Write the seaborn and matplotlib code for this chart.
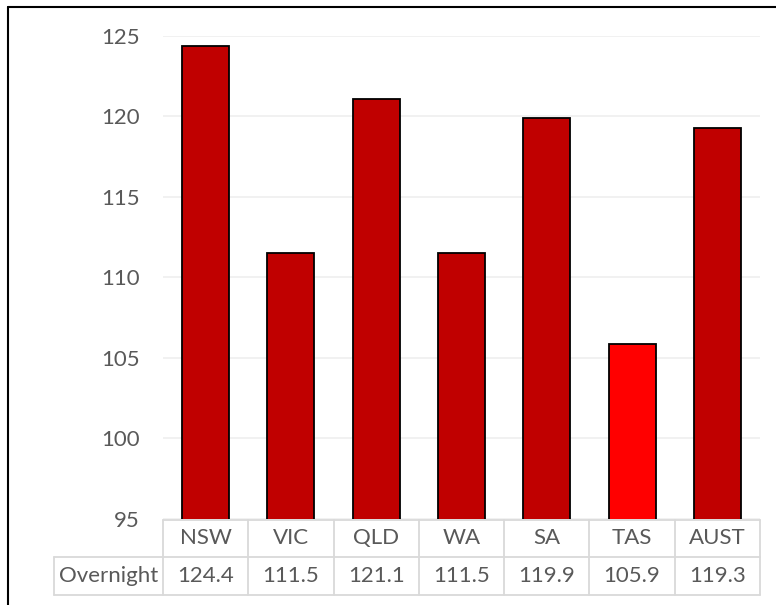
import matplotlib
matplotlib.use("Agg")
import matplotlib.pyplot as plt
import matplotlib.transforms as mtransforms
from matplotlib.lines import Line2D
import seaborn as sns

states = ["NSW", "VIC", "QLD", "WA", "SA", "TAS", "AUST"]
overnight = [124.4, 111.5, 121.1, 111.5, 119.9, 105.9, 119.3]
bar_colors = ["#C00000", "#C00000", "#C00000", "#C00000", "#C00000", "#FF0000", "#C00000"]
series_name = "Overnight"
y_ticks = [95, 100, 105, 110, 115, 120, 125]

sns.set_theme(style="white")
plt.rcParams["font.family"] = ["Lato", "DejaVu Sans"]
text_color = "#595959"
grid_color = "#D9D9D9"
fs = 16

W, H = 776, 605
fig = plt.figure(figsize=(W / 100, H / 100), dpi=100)
ax = fig.add_axes([163 / W, 1 - 519 / H, (760 - 163) / W, (519 - 36) / H])

sns.barplot(x=states, y=overnight, hue=states, palette=bar_colors, width=0.55,
            saturation=1, edgecolor="black", linewidth=1.3, legend=False, ax=ax, zorder=3)

ax.set_ylim(95, 125)
ax.set_xlim(-0.5, len(states) - 0.5)
ax.set_yticks(y_ticks)
ax.set_yticklabels([str(t) for t in y_ticks], fontsize=fs, color=text_color)
ax.tick_params(axis="y", length=0, pad=17)
ax.set_xticks([])
ax.set_xlabel("")
ax.set_ylabel("")
for s in ax.spines.values():
    s.set_visible(False)
ax.yaxis.grid(True, color="#EFEFEF", linewidth=1.2, zorder=0)
ax.set_axisbelow(True)

# data table below the plot area: x in data units, y in figure pixels
tr = mtransforms.blended_transform_factory(ax.transData, fig.transFigure)
def fy(py):
    return 1 - py / H

row_top, row_mid, row_bot = 519.5, 556.5, 594.5
left_label = -0.5 - (163 - 53.5) / ((760 - 163) / len(states))
n = len(states)
line_kw = dict(color=grid_color, linewidth=1.3, transform=tr, clip_on=False, zorder=5)

fig.add_artist(Line2D([-0.5, n - 0.5], [fy(row_top)] * 2, **line_kw))
fig.add_artist(Line2D([left_label, n - 0.5], [fy(row_mid)] * 2, **line_kw))
fig.add_artist(Line2D([left_label, n - 0.5], [fy(row_bot)] * 2, **line_kw))
fig.add_artist(Line2D([left_label, left_label], [fy(row_mid), fy(row_bot)], **line_kw))
for i in range(n + 1):
    fig.add_artist(Line2D([i - 0.5, i - 0.5], [fy(row_top), fy(row_bot)], **line_kw))

for i, (st, v) in enumerate(zip(states, overnight)):
    fig.text(i, fy((row_top + row_mid) / 2), st, transform=tr, ha="center", va="center",
             fontsize=fs, color=text_color)
    fig.text(i, fy((row_mid + row_bot) / 2), f"{v:.1f}", transform=tr, ha="center",
             va="center", fontsize=fs, color=text_color)
fig.text((left_label - 0.5) / 2, fy((row_mid + row_bot) / 2), series_name, transform=tr,
         ha="center", va="center", fontsize=fs, color=text_color)

# outer chart border (left and top edges)
fig.add_artist(Line2D([8 / W, 8 / W], [0, fy(7)], color="black", linewidth=1.5,
                      transform=fig.transFigure))
fig.add_artist(Line2D([8 / W, 1], [fy(7), fy(7)], color="black", linewidth=1.5,
                      transform=fig.transFigure))

fig.savefig("out.png", dpi=100)
